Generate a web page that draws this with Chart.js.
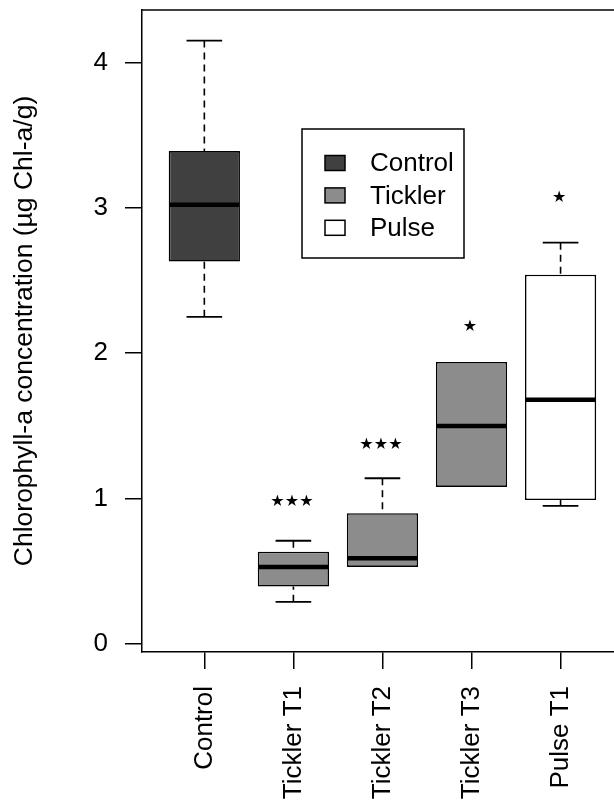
<!DOCTYPE html>
<html><head><meta charset="utf-8">
<script src="https://cdn.jsdelivr.net/npm/chart.js@4.4.0/dist/chart.umd.min.js"></script>
<style>html,body{margin:0;padding:0;background:#fff;overflow:hidden}canvas{display:block}</style>
</head><body>
<canvas id="c" width="614" height="807"></canvas>
<script>
const categories = ['Control', 'Tickler T1', 'Tickler T2', 'Tickler T3', 'Pulse T1'];
const groups = ['Control', 'Tickler', 'Tickler', 'Tickler', 'Pulse'];
const whiskerLow  = [2.25, 0.29, 0.53, 1.08, 0.95];
const q1          = [2.63, 0.395, 0.53, 1.08, 0.99];
const median      = [3.02, 0.53, 0.59, 1.50, 1.68];
const q3          = [3.39, 0.635, 0.90, 1.94, 2.54];
const whiskerHigh = [4.15, 0.71, 1.14, 1.94, 2.76];
const signifCount = [0, 3, 3, 1, 1];
const signifY = [null, 0.99, 1.38, 2.19, 3.08];
const yTicks = [0, 1, 2, 3, 4];
const legendLabels = ['Control', 'Tickler', 'Pulse'];
const groupColors = { Control: '#404040', Tickler: '#8c8c8c', Pulse: '#ffffff' };

const FONT = "'Liberation Sans', Arial, sans-serif";
Chart.defaults.font.family = FONT;
Chart.defaults.color = '#000';

const xs = categories.map((_, i) => i + 1);

const boxPlugin = {
  id: 'boxExtras',
  beforeDatasetsDraw(chart) {
    const { ctx, scales: { x, y } } = chart;
    const half = x.getPixelForValue(1.2) - x.getPixelForValue(1);
    ctx.save();
    ctx.strokeStyle = '#000';
    ctx.lineCap = 'butt';
    xs.forEach((xv, i) => {
      const cx = x.getPixelForValue(xv);
      const pairs = [[q3[i], whiskerHigh[i]], [q1[i], whiskerLow[i]]];
      pairs.forEach(([from, to]) => {
        if (to === from) return;
        ctx.lineWidth = 1.6;
        ctx.setLineDash([7, 5]);
        ctx.beginPath();
        ctx.moveTo(cx, y.getPixelForValue(to));
        ctx.lineTo(cx, y.getPixelForValue(from));
        ctx.stroke();
        ctx.setLineDash([]);
        ctx.lineWidth = 1.8;
        ctx.beginPath();
        ctx.moveTo(cx - half, y.getPixelForValue(to));
        ctx.lineTo(cx + half, y.getPixelForValue(to));
        ctx.stroke();
      });
    });
    ctx.restore();
  },
  afterDatasetsDraw(chart) {
    const { ctx, scales: { x, y }, chartArea } = chart;
    const halfBox = x.getPixelForValue(1.4) - x.getPixelForValue(1);
    ctx.save();
    ctx.strokeStyle = '#000';
    ctx.lineWidth = 4.5;
    xs.forEach((xv, i) => {
      const cx = x.getPixelForValue(xv);
      const py = y.getPixelForValue(median[i]);
      ctx.beginPath();
      ctx.moveTo(cx - halfBox + 1, py);
      ctx.lineTo(cx + halfBox - 1, py);
      ctx.stroke();
    });
    // significance stars
    ctx.fillStyle = '#000';
    ctx.font = "16px 'DejaVu Sans'";
    ctx.textAlign = 'center';
    ctx.textBaseline = 'alphabetic';
    const m = ctx.measureText('\u2605');
    const step = 14.5;
    xs.forEach((xv, i) => {
      const n = signifCount[i];
      if (!n) return;
      const cx = x.getPixelForValue(xv) - 1.5;
      const cy = y.getPixelForValue(signifY[i]);
      const base = cy - (m.actualBoundingBoxDescent - m.actualBoundingBoxAscent) / 2;
      for (let k = 0; k < n; k++) {
        ctx.fillText('\u2605', cx + (k - (n - 1) / 2) * step, base);
      }
    });
    // top frame line
    ctx.lineWidth = 1.5;
    ctx.beginPath();
    ctx.moveTo(chartArea.left, chartArea.top);
    ctx.lineTo(chartArea.right, chartArea.top);
    ctx.stroke();
    // legend
    const L = chartArea.left + 160, T = chartArea.top + 119, W = 162, H = 129;
    ctx.fillStyle = '#fff';
    ctx.fillRect(L, T, W, H);
    ctx.lineWidth = 1.5;
    ctx.strokeRect(L, T, W, H);
    ctx.font = '26px ' + FONT;
    ctx.textAlign = 'left';
    ctx.textBaseline = 'middle';
    legendLabels.forEach((lab, k) => {
      const cy = T + 34 + k * 32.4;
      ctx.fillStyle = groupColors[lab];
      ctx.fillRect(L + 23, cy - 7.5, 20, 15);
      ctx.strokeRect(L + 23, cy - 7.5, 20, 15);
      ctx.fillStyle = '#000';
      ctx.fillText(lab, L + 68, cy + 1);
    });
    ctx.restore();
  }
};

const gridOpts = { drawOnChartArea: false, drawTicks: true, tickLength: 17, tickColor: '#000', tickWidth: 1.5, lineWidth: 1.5, offset: false };
const borderOpts = { display: true, color: '#000', width: 1.5 };

new Chart(document.getElementById('c'), {
  type: 'bar',
  data: {
    datasets: [{
      data: xs.map((xv, i) => ({ x: xv, y: [q1[i], q3[i]] })),
      backgroundColor: groups.map(g => groupColors[g]),
      borderColor: '#000',
      borderWidth: 1.6,
      borderSkipped: false,
      categoryPercentage: 1,
      barPercentage: 0.8,
      grouped: false
    }]
  },
  options: {
    responsive: false,
    animation: false,
    devicePixelRatio: 1,
    layout: { padding: { top: 10, left: 0, right: 0, bottom: 0 } },
    plugins: { legend: { display: false }, tooltip: { enabled: false } },
    scales: {
      x: {
        type: 'linear', min: 0.3, max: 5.6, offset: false,
        afterBuildTicks: s => { s.ticks = xs.map(v => ({ value: v })); },
        afterFit: s => { s.height = 155; s.paddingLeft = 0; s.paddingRight = 0; s.paddingTop = 0; s.paddingBottom = 0; },
        ticks: { autoSkip: false, maxRotation: 90, minRotation: 90, padding: 17, color: '#000',
                 font: { size: 26 }, callback: v => categories[Math.round(v) - 1] },
        grid: gridOpts,
        border: borderOpts
      },
      y: {
        type: 'linear', min: -0.055, max: 4.36,
        afterBuildTicks: s => { s.ticks = yTicks.map(v => ({ value: v })); },
        afterFit: s => { s.width = 142; s.paddingTop = 0; s.paddingBottom = 0; s.paddingLeft = 0; s.paddingRight = 0; },
        ticks: { padding: 17, color: '#000', font: { size: 26 } },
        grid: gridOpts,
        border: borderOpts,
        title: { display: true, text: 'Chlorophyll-a concentration (µg Chl-a/g)', color: '#000',
                 font: { size: 26.5, lineHeight: 1.2 }, padding: { top: 9, bottom: 0 } }
      }
    }
  },
  plugins: [boxPlugin]
});
</script>
</body></html>
